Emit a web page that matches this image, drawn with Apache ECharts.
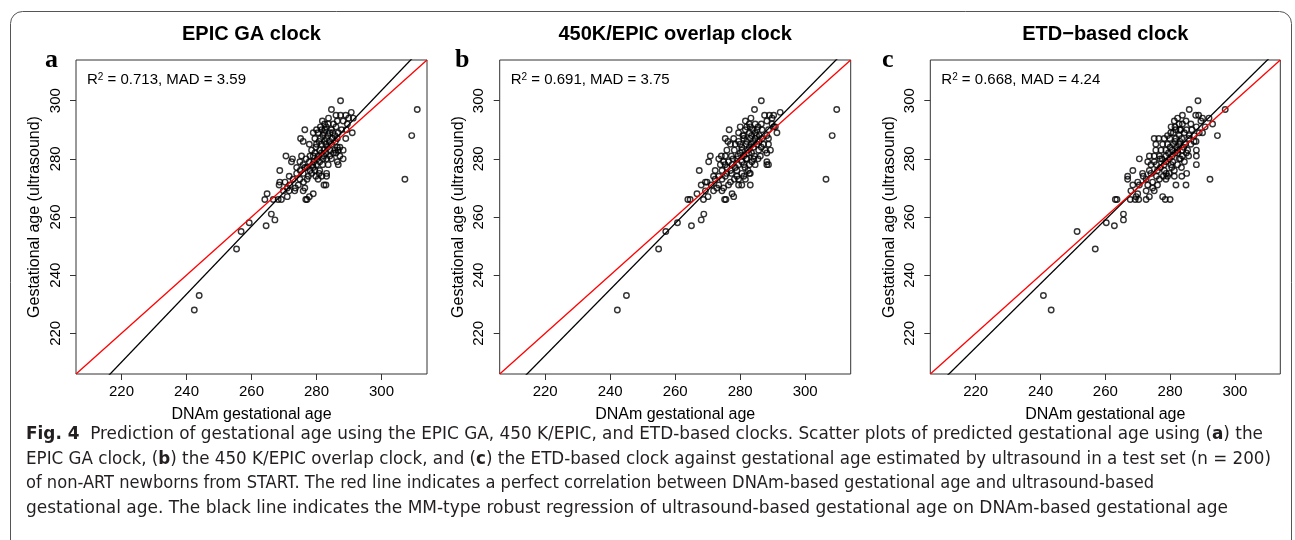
<!DOCTYPE html>
<html><head><meta charset="utf-8">
<script src="https://cdn.jsdelivr.net/npm/echarts@6/dist/echarts.min.js"></script>
<style>html,body{margin:0;padding:0;background:#fff}#chart{width:1295px;height:540px}</style>
</head><body><div id="chart"></div>
<script>
// ---------- data ----------
const panelTitles = ['EPIC GA clock', '450K/EPIC overlap clock', 'ETD\u2212based clock'];
const panelLetters = ['a', 'b', 'c'];
const r2Values = ['0.713', '0.691', '0.668'];
const madValues = ['3.59', '3.75', '4.24'];
const fitIntercepts = [-46.87, -37.56, -26.7];
const fitSlopes = [1.168, 1.136, 1.099];
const axisMin = 206, axisMax = 314;
const tickValues = [220, 240, 260, 280, 300];

const epicGA = [
[242.4,228],[243.9,233],[255.4,249],[256.8,255],[259.3,258],[264.5,257],[266.1,261],[267.2,259],[311.0,297],[309.3,288],[307.2,273],
[287.4,300],[284.6,297],
[286.0,295],[287.4,295],[289.0,295],[290.7,296],[283.7,294],[289.9,294],[291.3,294],
[282.5,292],[281.2,291],[283.6,292],[286.4,293],[288.2,293],[289.5,292],
[276.4,290],[280.0,290],[281.6,290],[282.6,290],[284.6,290],[286.0,291],[287.7,290],[289.2,290],
[279.0,289],[280.5,289],[282.3,289],[284.1,289],[285.7,288],[286.7,289],[291.0,289],
[275.1,287],[275.9,286],[279.5,287],[281.2,287],[283.1,287],[284.9,287],[286.4,287],[289.0,287],
[277.8,285],[280.0,285],[281.6,285],[282.9,285],[284.6,285],[286.4,284],[287.2,284],
[281.0,283],[282.3,283],[284.1,283],[285.7,283],[286.7,283],[288.2,283],
[270.6,281],[275.4,281],[279.0,281],[280.5,281],[282.3,281],[284.1,281],[286.0,282],[287.2,281],[288.2,280],
[272.6,280],[274.9,279],[277.8,279],[279.2,279],[281.0,279],[283.1,280],[284.6,280],[286.4,279],
[272.3,279],[275.9,278],[278.8,278],[280.0,278],[281.9,278],[283.6,278],[286.7,278],
[268.7,276],[273.9,277],[276.4,277],[278.0,276],[279.5,276],[281.0,276],[283.1,275],
[271.6,274],[273.9,275],[275.9,275],[277.5,274],[279.8,274],[281.6,274],[283.1,274],
[270.3,272],[272.8,273],[274.9,273],[277.1,273],[280.5,273],
[268.7,272],[268.5,271],[271.8,271],[274.4,271],[276.4,270],[282.3,271],[282.9,271],
[264.8,268],[269.8,269],[271.6,269],[273.3,269],[275.9,269],[279.0,268],
[264.1,266],[266.7,266],[268.2,266],[269.2,266],[271.0,267],[276.7,266],[277.1,266],[277.8,267],
[281.8,293],[283.0,291],[285.2,292],[282.0,288],[283.5,288],[285.0,289],[280.8,286],[282.5,286],[284.0,286],[285.8,286],
[279.8,284],[283.4,284],[285.2,282],[281.5,282],[283.0,282],[278.5,283],[280.2,280],[282.0,280],[278.0,281],[279.5,282],
[276.8,280],[277.0,277],[279.0,277],[275.0,276],[280.8,275],[278.5,275],[276.0,272],[273.5,270],[271.0,270]
];

const overlapClock = [
[242.2,228],[245.0,233],[254.9,249],[257.1,255],[260.7,258],[265.0,257],[268.0,259],[268.8,261],[309.7,297],[308.3,288],[306.4,273],
[286.5,300],[284.4,297],
[283.3,294],[287.5,295],[289.0,295],[290.3,295],[292.3,296],[289.8,294],
[281.6,293],[282.8,292],[284.6,292],[286.5,292],[288.2,293],[289.8,292],[290.8,291],
[276.6,290],[280.0,291],[281.6,290],[283.1,291],[285.2,290],[286.7,290],[288.7,290],[290.3,291],
[279.5,289],[281.1,288],[282.8,289],[284.6,289],[285.9,288],[288.2,288],[291.3,289],
[275.4,287],[276.2,286],[278.0,287],[279.5,286],[281.1,287],[283.1,287],[284.6,287],[286.7,287],[288.7,287],
[277.0,285],[278.5,285],[280.0,285],[281.8,285],[283.4,285],[285.2,285],[287.2,285],[288.7,285],
[275.9,283],[280.5,283],[282.4,283],[284.1,284],[285.7,283],[287.7,283],[289.3,283],
[270.8,281],[274.2,281],[275.4,281],[277.3,281],[279.3,281],[281.1,281],[282.6,282],[284.4,281],[286.2,281],[288.2,282],
[270.3,279],[273.4,280],[274.9,279],[276.4,279],[279.0,280],[280.5,279],[282.1,280],[283.6,279],[285.5,280],[288.2,279],[288.7,278],
[273.9,278],[275.4,278],[277.5,278],[279.5,278],[281.1,278],[282.8,278],[284.6,278],[288.2,278],
[267.4,276],[272.3,276],[274.4,276],[277.0,276],[279.0,276],[280.5,275],[282.4,276],[283.1,275],
[271.8,274],[273.4,274],[275.4,274],[277.3,275],[279.0,274],[281.1,274],[282.8,275],
[269.8,272],[272.3,273],[274.4,273],[277.0,272],[279.5,273],[281.6,273],[283.1,271],
[268.0,271],[269.3,272],[271.1,271],[273.4,271],[274.9,270],[276.4,271],[279.5,271],[280.5,271],
[266.7,268],[269.3,269],[271.8,269],[274.4,269],[277.5,268],
[263.9,266],[264.6,266],[268.7,266],[270.1,267],[275.2,266],[275.6,266],[278.0,267],
[282.0,291],[283.8,290],[285.5,291],[280.8,288],[283.5,288],[285.0,288],[282.0,286],[284.0,286],[285.8,286],[280.5,284],
[282.8,284],[286.5,284],[283.5,282],[280.0,282],[278.2,283],[281.8,280],[284.2,280],[277.8,280],[278.5,277],[281.5,277],
[276.0,277],[275.8,275],[278.2,273],[272.8,270]
];

const etdClock = [
[240.9,233],[243.3,228],[251.3,255],[256.9,249],[260.3,258],[262.8,257],[265.6,261],[265.6,259],[297.0,297],[294.6,288],[292.3,273],
[288.6,300],[285.9,297],
[282.3,294],[283.8,295],[287.9,295],[288.8,295],[290.0,294],[292.0,294],
[281.3,293],[282.8,292],[284.9,293],[286.4,292],[289.5,293],[290.8,291],[293.1,292],
[280.3,291],[281.8,290],[283.3,290],[285.1,290],[286.7,290],[288.1,291],[289.0,289],[290.0,289],
[279.2,288],[281.0,289],[282.8,288],[284.4,289],[285.9,288],[287.4,288],
[275.1,287],[276.5,287],[278.2,287],[279.9,287],[281.6,286],[283.6,287],[285.7,287],[287.4,286],
[275.6,285],[277.7,285],[279.2,285],[281.0,285],[282.8,285],[284.7,285],[286.4,285],[288.0,286],
[275.6,283],[277.2,283],[278.7,283],[280.6,283],[282.3,283],[283.8,283],[285.4,283],[288.1,283],
[273.6,281],[275.1,281],[276.7,281],[278.7,281],[280.6,281],[282.3,282],[283.8,281],[285.7,281],[288.1,281],
[270.5,280],[273.1,279],[275.1,279],[276.9,280],[278.7,279],[280.8,279],[282.8,280],[284.4,279],
[274.1,278],[275.8,278],[278.2,278],[280.3,278],[282.3,278],[288.1,278],
[268.5,276],[271.5,275],[273.6,276],[276.1,276],[278.2,276],[279.7,275],[281.3,276],[283.6,274],[285.1,275],
[266.9,273],[271.7,274],[274.1,275],[275.8,274],[277.9,274],[279.2,274],[281.3,274],
[266.9,274],[270.0,272],[272.6,273],[274.6,272],[276.7,273],[278.7,273],[281.8,271],[284.9,271],
[268.5,271],[270.5,271],[273.1,271],[274.6,270],[276.1,271],
[267.9,269],[270.0,268],[272.6,269],[275.1,269],[277.7,267],
[263.1,266],[263.6,266],[267.7,266],[269.2,266],[270.3,266],[278.5,266],[280.0,266],[269.5,267],[272.6,266],[273.6,267],
[281.5,291],[283.8,292],[280.2,289],[283.0,290],[281.8,287],[283.0,286],[284.2,284],[280.0,284],[282.0,284],[279.5,282],
[281.5,282],[283.2,280],[285.0,282],[279.8,280],[277.5,280],[280.5,277],[283.5,277],[277.0,277],[278.8,275]
];

const panelData = [epicGA, overlapClock, etdClock];

const captionLines = [
  [['Fig. 4', 1], ['  Prediction of gestational age using the EPIC GA, 450 K/EPIC, and ETD-based clocks. Scatter plots of predicted gestational age using (', 0], ['a', 1], [') the', 0]],
  [['EPIC GA clock, (', 0], ['b', 1], [') the 450 K/EPIC overlap clock, and (', 0], ['c', 1], [') the ETD-based clock against gestational age estimated by ultrasound in a test set (n = 200)', 0]],
  [['of non-ART newborns from START. The red line indicates a perfect correlation between DNAm-based gestational age and ultrasound-based', 0]],
  [['gestational age. The black line indicates the MM-type robust regression of ultrasound-based gestational age on DNAm-based gestational age', 0]]
];

// ---------- layout ----------
const FONT = "'Liberation Sans', Arial, sans-serif";
const gridLeft = [76, 499.7, 930.3];
const gridWidth = [351, 351, 350];
const gridTop = 60, gridHeight = 314;
const captionY = [435, 460, 484, 509];
const captionEnd = [1263, 1271, 1154, 1228];
const captionX = 26;
const CAP_SIZE = 17;
const CAP_FAMILY = "'Liberation Sans Narrow', 'DejaVu Sans Condensed', 'Liberation Sans', sans-serif";

const chart = echarts.init(document.getElementById('chart'), null, {renderer: 'canvas'});

const grid = [], xAxis = [], yAxis = [], series = [], title = [], graphic = [];
for (let i = 0; i < 3; i++) {
  grid.push({left: gridLeft[i], top: gridTop, width: gridWidth[i], height: gridHeight,
    show: true, borderColor: '#333', borderWidth: 1, backgroundColor: 'rgba(0,0,0,0)',
    containLabel: false, outerBoundsMode: 'none'});
  const common = {
    type: 'value', gridIndex: i, min: axisMin, max: axisMax,
    axisLine: {show: false},
    splitLine: {show: false},
    axisTick: {show: true, inside: false, length: 6, customValues: tickValues, lineStyle: {color: '#333', width: 1}},
    nameLocation: 'middle',
    nameTextStyle: {fontSize: 16, color: '#000', fontFamily: FONT}
  };
  xAxis.push(Object.assign({}, common, {
    axisLabel: {customValues: tickValues, margin: 10, fontSize: 15, color: '#000', fontFamily: FONT},
    name: 'DNAm gestational age', nameGap: 33
  }));
  yAxis.push(Object.assign({}, common, {
    axisLabel: {customValues: tickValues, margin: 13, fontSize: 15, color: '#000', fontFamily: FONT, rotate: 90},
    name: 'Gestational age (ultrasound)', nameGap: 33
  }));
  series.push({
    type: 'scatter', xAxisIndex: i, yAxisIndex: i, data: panelData[i],
    symbol: 'circle', symbolSize: 5.5,
    itemStyle: {color: 'rgba(255,255,255,0)', borderColor: '#000', borderWidth: 1.4},
    silent: true
  });
  series.push({
    type: 'line', xAxisIndex: i, yAxisIndex: i, symbol: 'none', clip: true, silent: true,
    data: [[axisMin, fitIntercepts[i] + fitSlopes[i] * axisMin], [axisMax, fitIntercepts[i] + fitSlopes[i] * axisMax]],
    lineStyle: {color: '#000', width: 1.3}
  });
  series.push({
    type: 'line', xAxisIndex: i, yAxisIndex: i, symbol: 'none', clip: true, silent: true,
    data: [[axisMin, axisMin], [axisMax, axisMax]],
    lineStyle: {color: '#ff0000', width: 1.3}
  });
  title.push({
    text: panelTitles[i], left: gridLeft[i] + gridWidth[i] / 2, top: 24, textAlign: 'center', padding: 0,
    textStyle: {fontSize: 20, fontWeight: 'bold', color: '#000', fontFamily: FONT}
  });
  graphic.push({
    type: 'text', x: [45, 455, 882][i], y: 47, silent: true,
    style: {text: panelLetters[i], font: "bold 26px 'Liberation Serif', serif", fill: '#000',
      align: 'left', verticalAlign: 'alphabetic', textAlign: 'left', textVerticalAlign: 'alphabetic'}
  });
  graphic.push({
    type: 'text', x: gridLeft[i] + 11, y: 80, silent: true,
    style: {
      text: '{n|R}{s|2}{n| = ' + r2Values[i] + ', MAD = ' + madValues[i] + '}',
      fill: '#000', align: 'left', verticalAlign: 'middle', textAlign: 'left', textVerticalAlign: 'middle',
      rich: {
        n: {fontSize: 15, fontFamily: FONT, fill: '#000', color: '#000'},
        s: {fontSize: 10, fontFamily: FONT, fill: '#000', color: '#000', verticalAlign: 'top'}
      }
    }
  });
}

// frame
graphic.push({type: 'rect', silent: true, shape: {x: 10.5, y: 11.5, width: 1281, height: 580, r: 12},
  style: {fill: 'none', stroke: '#555', lineWidth: 1}});

// caption
const mctx = document.createElement('canvas').getContext('2d');
function segWidth(t, bold) {
  mctx.font = (bold ? 'bold ' : '') + CAP_SIZE + 'px ' + CAP_FAMILY;
  return mctx.measureText(t).width;
}
captionLines.forEach((segs, k) => {
  let w = 0, txt = '';
  segs.forEach(([t, b]) => { w += segWidth(t, b); txt += b ? '{b|' + t + '}' : t; });
  const sx = (captionEnd[k] - captionX) / w;
  graphic.push({
    type: 'text', x: captionX, y: captionY[k], scaleX: sx, silent: true,
    style: {
      text: txt, font: CAP_SIZE + 'px ' + CAP_FAMILY, fill: '#231f20',
      align: 'left', verticalAlign: 'middle', textAlign: 'left', textVerticalAlign: 'middle',
      rich: {b: {fontWeight: 'bold', fontSize: CAP_SIZE, fontFamily: CAP_FAMILY, fill: '#231f20', color: '#231f20'}}
    }
  });
});

chart.setOption({
  animation: false,
  backgroundColor: '#fff',
  textStyle: {fontFamily: FONT},
  title, grid, xAxis, yAxis, series, graphic
});
</script></body></html>
